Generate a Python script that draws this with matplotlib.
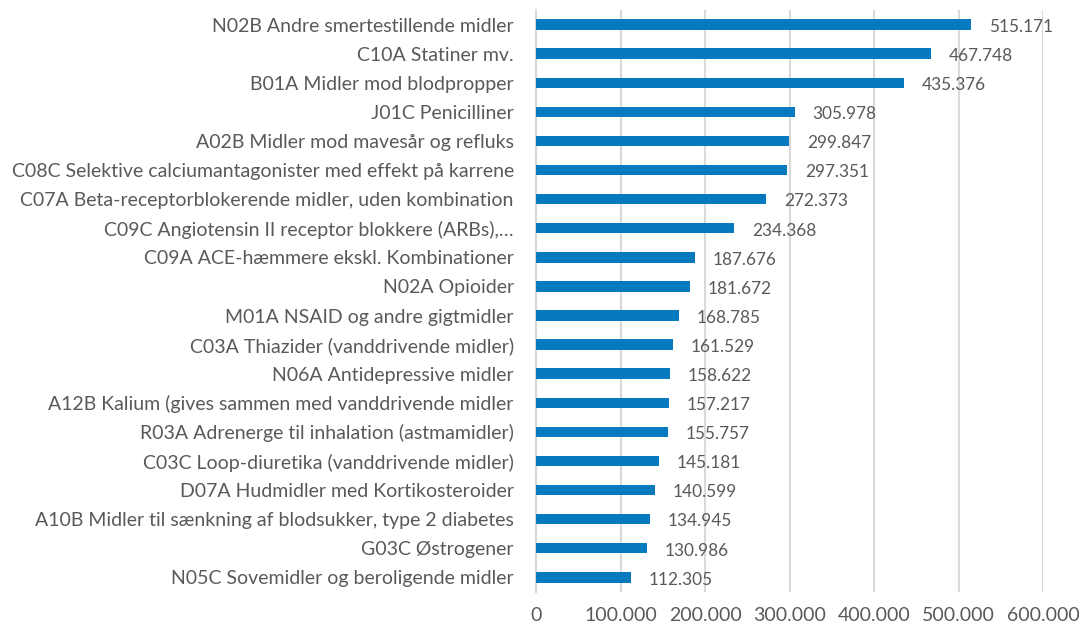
import matplotlib.pyplot as plt
from matplotlib.ticker import FuncFormatter

categories = [
    "N02B Andre smertestillende midler",
    "C10A Statiner mv.",
    "B01A Midler mod blodpropper",
    "J01C Penicilliner",
    "A02B Midler mod mavesår og refluks",
    "C08C Selektive calciumantagonister med effekt på karrene",
    "C07A Beta-receptorblokerende midler, uden kombination",
    "C09C Angiotensin II receptor blokkere (ARBs),…",
    "C09A ACE-hæmmere ekskl. Kombinationer",
    "N02A Opioider",
    "M01A NSAID og andre gigtmidler",
    "C03A Thiazider (vanddrivende midler)",
    "N06A Antidepressive midler",
    "A12B Kalium (gives sammen med vanddrivende midler",
    "R03A Adrenerge til inhalation (astmamidler)",
    "C03C Loop-diuretika (vanddrivende midler)",
    "D07A Hudmidler med Kortikosteroider",
    "A10B Midler til sænkning af blodsukker, type 2 diabetes",
    "G03C Østrogener",
    "N05C Sovemidler og beroligende midler",
]
values = [515171, 467748, 435376, 305978, 299847, 297351, 272373, 234368,
          187676, 181672, 168785, 161529, 158622, 157217, 155757, 145181,
          140599, 134945, 130986, 112305]
xticks = [0, 100000, 200000, 300000, 400000, 500000, 600000]

plt.rcParams['font.family'] = ['Lato', 'DejaVu Sans']
txt = '#595959'
bar_col = '#0779bf'

fig = plt.figure(figsize=(10.79, 6.27), dpi=100)
ax = fig.add_axes([0.4968, 0.056, 0.47, 0.928])

ypos = list(range(len(values)))
ax.barh(ypos, values, height=0.36, color=bar_col, zorder=3)
ax.set_ylim(len(values) - 0.5, -0.5)
ax.set_xlim(0, 600000)
ax.set_xticks(xticks)

def fmt(v, pos=None):
    return f"{int(v):,}".replace(",", ".")

ax.xaxis.set_major_formatter(FuncFormatter(fmt))
ax.set_yticks(ypos)
ax.set_yticklabels(categories)

for y, v in zip(ypos, values):
    ax.text(v + 21000, y + 0.08, fmt(v), va='center', ha='left',
            fontsize=12.4, color=txt)

ax.grid(axis='x', color='#d9d9d9', linewidth=1.5, zorder=0)
for s in ['top', 'right', 'bottom']:
    ax.spines[s].set_visible(False)
ax.spines['left'].set_color('#d9d9d9')
ax.spines['left'].set_linewidth(1.5)
ax.tick_params(axis='both', length=0, colors=txt, labelsize=14)
ax.tick_params(axis='x', pad=11)
ax.tick_params(axis='y', pad=16)

fig.savefig('out.png', dpi=100)
